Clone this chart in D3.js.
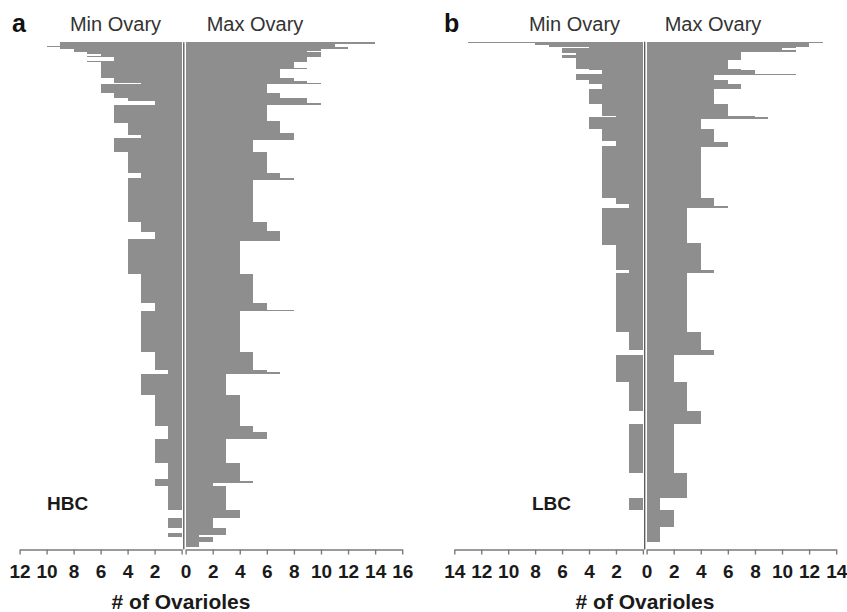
<!DOCTYPE html>
<html><head><meta charset="utf-8">
<script src="https://cdnjs.cloudflare.com/ajax/libs/d3/7.8.5/d3.min.js"></script>
<style>body{margin:0;background:#fff}svg{display:block}</style>
</head><body>
<svg id="chart" width="847" height="612"></svg>
<script>
// Each run: [ovariole count, number of workers in the run], listed top to bottom
const hbcMin = [[9,2],[10,1],[9,1],[8,2],[7,1],[6,1],[7,1],[5,2],[7,1],[6,9],[5,3],[3,1],[6,5],[5,3],[4,2],[2,2],[5,11],[4,7],[3,2],[5,8],[4,13],[3,3],[4,26],[3,6],[2,4],[4,21],[3,17],[2,5],[3,24],[2,11],[1,2],[3,13],[2,18],[1,8],[2,14],[1,10],[2,4],[1,14],[0,5],[1,6],[0,3],[1,2],[0,6]];
const hbcMax = [[14,1],[11,2],[12,1],[10,1],[9,1],[10,3],[9,3],[8,3],[9,1],[7,5],[8,2],[9,1],[10,1],[6,5],[7,3],[9,3],[10,1],[6,10],[7,7],[8,4],[5,7],[6,13],[7,3],[8,1],[5,25],[6,5],[7,6],[4,20],[5,17],[6,4],[8,1],[4,24],[5,11],[6,1],[7,1],[3,13],[4,18],[5,4],[6,4],[3,14],[4,11],[5,1],[2,2],[3,14],[4,5],[2,6],[3,4],[1,1],[2,3],[1,3]];
const lbcMin = [[13,1],[8,1],[7,1],[4,1],[6,3],[5,1],[6,2],[5,6],[4,1],[3,2],[5,4],[4,2],[3,3],[4,9],[3,7],[2,1],[4,7],[3,7],[2,3],[3,31],[2,4],[1,2],[3,22],[2,15],[1,2],[2,35],[1,11],[0,3],[2,16],[1,17],[0,8],[1,29],[0,15],[1,7],[0,19]];
const lbcMax = [[13,1],[12,2],[11,1],[10,1],[11,1],[7,5],[6,5],[7,1],[8,2],[11,1],[5,3],[6,2],[7,3],[5,9],[6,7],[8,1],[9,1],[4,6],[5,8],[6,3],[4,30],[5,5],[6,1],[3,21],[4,16],[5,2],[3,35],[4,11],[5,3],[2,16],[3,17],[4,8],[2,29],[3,15],[1,7],[2,10],[1,9]];
const hbcTicksLeft = [12,10,8,6,4,2,0];
const hbcTicksRight = [0,2,4,6,8,10,12,14,16];
const lbcTicksLeft = [14,12,10,8,6,4,2,0];
const lbcTicksRight = [0,2,4,6,8,10,12,14];
const sideTitles = ["Min Ovary","Max Ovary"];
const panelLetters = ["a","b"];
const groupNames = ["HBC","LBC"];
const axisTitle = "# of Ovarioles";

const FONT = "'Liberation Sans', Arial, Helvetica, sans-serif";
const BAR = "#8e8e8e";
const svg = d3.select("#chart");

const panels = [
  {minRuns:hbcMin, maxRuns:hbcMax, tl:hbcTicksLeft, tr:hbcTicksRight,
   left:[181.6,19.6], right:[185.6,402.2], cx:183.8, top:42.3, bottom:546.7,
   letterX:12, minX:115.5, maxX:255, groupX:47, titleX:181},
  {minRuns:lbcMin, maxRuns:lbcMax, tl:lbcTicksLeft, tr:lbcTicksRight,
   left:[642.9,454.3], right:[646.6,836.2], cx:644.7, top:41.7, bottom:541.7,
   letterX:444, minX:574.5, maxX:713, groupX:532, titleX:645}
];

function cumulate(runs){
  let s = 0;
  return runs.map(([v,n]) => { const o = {v, y0:s, y1:s+n}; s += n; return o; });
}

const axisY = 549.5;

panels.forEach((p, i) => {
  const g = svg.append("g");
  const minData = cumulate(p.minRuns), maxData = cumulate(p.maxRuns);
  const N = d3.max([minData[minData.length-1].y1, maxData[maxData.length-1].y1]);
  const y = d3.scaleLinear().domain([0, N]).range([p.top, p.bottom]);
  const xL = d3.scaleLinear().domain([0, d3.max(p.tl)]).range(p.left);
  const xR = d3.scaleLinear().domain([0, d3.max(p.tr)]).range(p.right);

  g.append("g").selectAll("rect").data(minData.filter(d => d.v > 0)).join("rect")
    .attr("x", d => xL(d.v)).attr("width", d => xL(0) - xL(d.v))
    .attr("y", d => y(d.y0)).attr("height", d => y(d.y1) - y(d.y0))
    .attr("fill", BAR).attr("shape-rendering","crispEdges");
  g.append("g").selectAll("rect").data(maxData.filter(d => d.v > 0)).join("rect")
    .attr("x", xR(0)).attr("width", d => xR(d.v) - xR(0))
    .attr("y", d => y(d.y0)).attr("height", d => y(d.y1) - y(d.y0))
    .attr("fill", BAR).attr("shape-rendering","crispEdges");

  // centre divider
  g.append("line").attr("x1", p.cx).attr("x2", p.cx).attr("y1", p.top).attr("y2", axisY)
    .attr("stroke", "#555").attr("stroke-width", 1.3);

  // axes (the shared zero is labelled once, on the right-hand axis)
  [[xL, p.tl, true], [xR, p.tr, false]].forEach(([sc, ticks, isLeft]) => {
    const ax = g.append("g").attr("transform", `translate(0,${axisY})`)
      .call(d3.axisBottom(sc).tickValues(ticks).tickSize(5).tickSizeOuter(0).tickPadding(10)
        .tickFormat(d => (isLeft && d === 0) ? "" : d3.format("d")(d)));
    ax.select(".domain").attr("stroke", "#7a7a7a").attr("stroke-width", 1.4);
    ax.selectAll(".tick line").attr("stroke", "#7a7a7a").attr("stroke-width", 1.4);
    ax.selectAll(".tick text").attr("fill", "#1a1a1a").attr("font-family", FONT)
      .attr("font-size", 19).attr("font-weight", "bold");
    ax.attr("font-family", null).attr("font-size", null);
  });

  const txt = (x, yy, s, size, weight, anchor, fill) => g.append("text")
    .attr("x", x).attr("y", yy).text(s).attr("font-family", FONT).attr("font-size", size)
    .attr("font-weight", weight).attr("text-anchor", anchor).attr("fill", fill);

  txt(p.letterX, 32, panelLetters[i], 25, "bold", "start", "#111");
  txt(p.minX, 31, sideTitles[0], 20, "normal", "middle", "#333");
  txt(p.maxX, 31, sideTitles[1], 20, "normal", "middle", "#333");
  txt(p.groupX, 510, groupNames[i], 19, "bold", "start", "#1a1a1a");
  txt(p.titleX, 609, axisTitle, 21, "bold", "middle", "#1a1a1a");
});
</script>
</body></html>
